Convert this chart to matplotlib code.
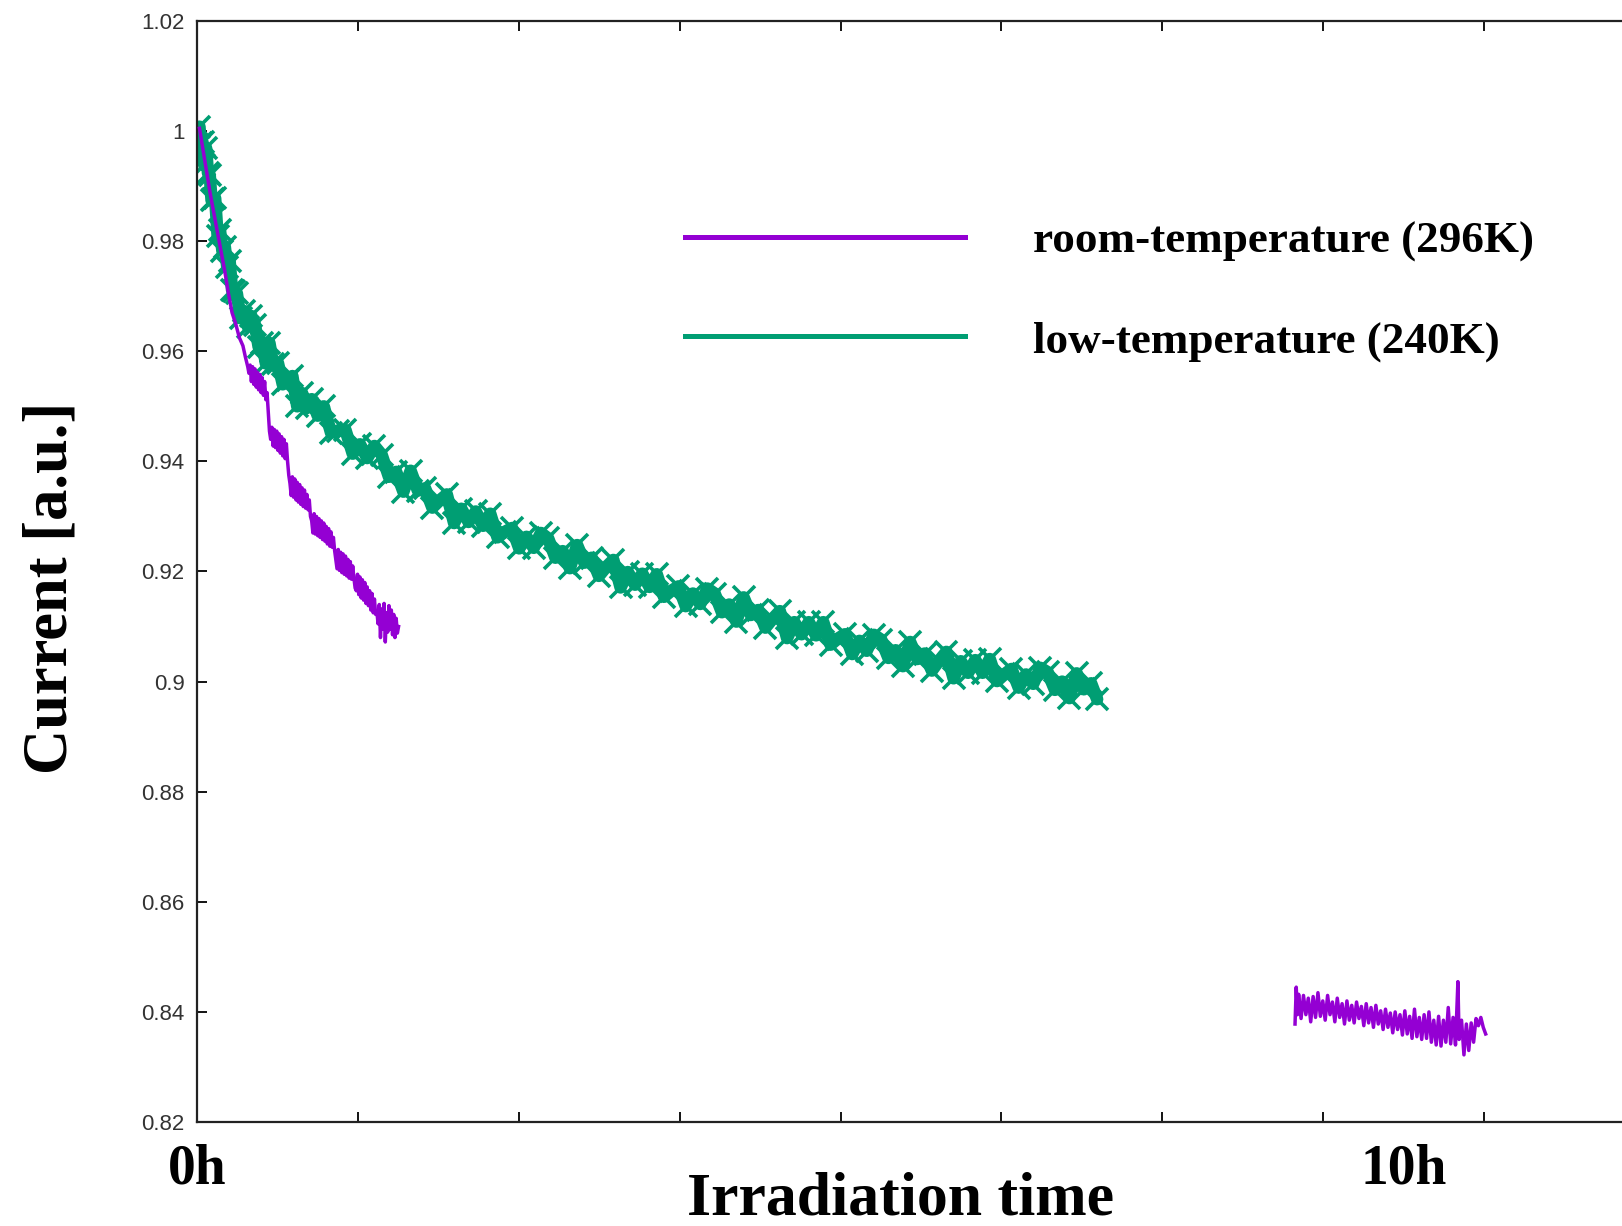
import numpy as np
import matplotlib.pyplot as plt
from matplotlib.lines import Line2D

# colours used by the original (gnuplot defaults)
c_room = "#9400d3"
c_low = "#009e73"

# irradiation time [h] and normalised current
low_t = [0.02, 0.03, 0.045, 0.06, 0.075, 0.09, 0.105, 0.12, 0.135, 0.15,
         0.17, 0.19, 0.21, 0.23, 0.25, 0.27, 0.29, 0.31, 0.33, 0.36,
         0.39, 0.42, 0.45, 0.48, 0.51, 0.54, 0.57, 0.60, 0.63, 0.67,
         0.71, 0.75, 0.79, 0.83, 0.87, 0.91, 0.95, 1.00,
         1.05, 1.11, 1.17, 1.23, 1.29, 1.35, 1.41, 1.47, 1.53, 1.59,
         1.65, 1.71, 1.77, 1.83, 1.89, 1.95, 2.01, 2.07, 2.13, 2.19,
         2.25, 2.31, 2.37, 2.43, 2.49, 2.55, 2.61, 2.67, 2.73, 2.79,
         2.85, 2.91, 2.97, 3.03, 3.09, 3.15, 3.21, 3.27, 3.33, 3.39,
         3.45, 3.51, 3.57, 3.63, 3.69, 3.75, 3.81, 3.87, 3.93, 3.99,
         4.05, 4.11, 4.17, 4.23, 4.29, 4.35, 4.41, 4.47, 4.53, 4.59,
         4.65, 4.71, 4.77, 4.83, 4.89, 4.95, 5.01, 5.07, 5.13, 5.19,
         5.25, 5.31, 5.37, 5.43, 5.49, 5.55, 5.61, 5.67, 5.73, 5.79,
         5.85, 5.91, 5.97, 6.03, 6.09, 6.15, 6.21, 6.27, 6.33, 6.39,
         6.45, 6.51, 6.57, 6.63, 6.69, 6.75, 6.81, 6.87, 6.93, 6.99,
         7.05, 7.11, 7.17, 7.23, 7.29, 7.35, 7.41, 7.46]
low_i = [1.0008, 0.9978, 0.9980, 0.9938, 0.9969, 0.9924, 0.9920, 0.9874, 0.9877, 0.9878,
         0.9810, 0.9820, 0.9782, 0.9790, 0.9753, 0.9764, 0.9711, 0.9710, 0.9705, 0.9660,
         0.9673, 0.9645, 0.9664, 0.9648, 0.9608, 0.9615, 0.9578, 0.9615, 0.9577, 0.9579,
         0.9540, 0.9548, 0.9555, 0.9500, 0.9524, 0.9497, 0.9513, 0.9483,
         0.9500, 0.9452, 0.9456, 0.9457, 0.9414, 0.9431, 0.9406, 0.9428, 0.9412, 0.9372,
         0.9381, 0.9345, 0.9383, 0.9347, 0.9351, 0.9316, 0.9329, 0.9340, 0.9288, 0.9314,
         0.9290, 0.9309, 0.9283, 0.9305, 0.9262, 0.9272, 0.9279, 0.9242, 0.9263, 0.9243,
         0.9270, 0.9260, 0.9225, 0.9237, 0.9206, 0.9248, 0.9216, 0.9225, 0.9192, 0.9208,
         0.9221, 0.9171, 0.9199, 0.9176, 0.9196, 0.9172, 0.9195, 0.9154, 0.9165, 0.9173,
         0.9137, 0.9160, 0.9141, 0.9169, 0.9160, 0.9126, 0.9140, 0.9109, 0.9153, 0.9121,
         0.9130, 0.9098, 0.9114, 0.9128, 0.9079, 0.9108, 0.9086, 0.9108, 0.9084, 0.9108,
         0.9067, 0.9078, 0.9086, 0.9050, 0.9074, 0.9056, 0.9085, 0.9076, 0.9043, 0.9057,
         0.9028, 0.9072, 0.9041, 0.9051, 0.9020, 0.9038, 0.9054, 0.9006, 0.9037, 0.9016,
         0.9039, 0.9016, 0.9041, 0.9001, 0.9013, 0.9023, 0.8989, 0.9013, 0.8996, 0.9025,
         0.9017, 0.8985, 0.9000, 0.8970, 0.9015, 0.8986, 0.8997, 0.8968]

room_t1 = [0.02, 0.05, 0.08, 0.11, 0.14, 0.17, 0.20, 0.23, 0.26, 0.29,
           0.32, 0.35, 0.38, 0.40, 0.42,
           0.43, 0.44, 0.45, 0.46, 0.47, 0.48, 0.49, 0.50, 0.51, 0.52,
           0.53, 0.54, 0.55, 0.56, 0.57, 0.58, 0.59, 0.60,
           0.61, 0.62, 0.63, 0.64, 0.65, 0.66, 0.67, 0.68, 0.69, 0.70,
           0.71, 0.72, 0.73, 0.74, 0.75, 0.76,
           0.77, 0.78, 0.79, 0.80, 0.81, 0.82, 0.83, 0.84, 0.85, 0.86,
           0.87, 0.88, 0.89, 0.90, 0.91, 0.92, 0.93, 0.94,
           0.95, 0.96, 0.97, 0.98, 0.99, 1.00, 1.01, 1.02, 1.03, 1.04,
           1.05, 1.06, 1.07, 1.08, 1.09, 1.10, 1.11, 1.12, 1.13, 1.14,
           1.15, 1.16, 1.17, 1.18, 1.19, 1.20, 1.21, 1.22, 1.23, 1.24,
           1.25, 1.26, 1.27, 1.28, 1.29, 1.30, 1.31,
           1.32, 1.33, 1.34, 1.35, 1.36, 1.37, 1.38, 1.39, 1.40, 1.41,
           1.42, 1.43, 1.44, 1.45, 1.46, 1.47, 1.48,
           1.49, 1.50, 1.51, 1.52, 1.53, 1.54, 1.55, 1.56, 1.57, 1.58,
           1.59, 1.60, 1.61, 1.62, 1.63, 1.64, 1.65, 1.66, 1.67]
room_i1 = [1.0005, 0.9965, 0.9925, 0.9885, 0.9850, 0.9815, 0.9780, 0.9745, 0.9705, 0.9670,
           0.9650, 0.9625, 0.9610, 0.9590, 0.9572,
           0.9560, 0.9575, 0.9545, 0.9572, 0.9540, 0.9568, 0.9535, 0.9562, 0.9530, 0.9558,
           0.9525, 0.9552, 0.9520, 0.9545, 0.9512, 0.9525, 0.9490, 0.9455,
           0.9440, 0.9462, 0.9428, 0.9458, 0.9425, 0.9455, 0.9420, 0.9450, 0.9415, 0.9445,
           0.9410, 0.9440, 0.9405, 0.9432, 0.9400, 0.9375,
           0.9360, 0.9338, 0.9372, 0.9335, 0.9368, 0.9330, 0.9362, 0.9326, 0.9358, 0.9322,
           0.9352, 0.9318, 0.9348, 0.9315, 0.9340, 0.9312, 0.9330, 0.9300,
           0.9292, 0.9270, 0.9305, 0.9268, 0.9300, 0.9265, 0.9296, 0.9262, 0.9292, 0.9258,
           0.9288, 0.9255, 0.9282, 0.9250, 0.9278, 0.9246, 0.9272, 0.9244, 0.9262, 0.9238,
           0.9222, 0.9205, 0.9240, 0.9202, 0.9235, 0.9198, 0.9232, 0.9195, 0.9228, 0.9192,
           0.9222, 0.9188, 0.9218, 0.9186, 0.9210, 0.9188, 0.9170,
           0.9165, 0.9195, 0.9158, 0.9190, 0.9152, 0.9185, 0.9148, 0.9180, 0.9142, 0.9172,
           0.9138, 0.9165, 0.9130, 0.9160, 0.9125, 0.9150, 0.9122,
           0.9128, 0.9105, 0.9140, 0.9080, 0.9132, 0.9095, 0.9142, 0.9072, 0.9125, 0.9090,
           0.9138, 0.9095, 0.9130, 0.9085, 0.9122, 0.9080, 0.9115, 0.9088, 0.9100]

room_t2 = [9.10, 9.11, 9.12, 9.13,
           9.15, 9.17, 9.19, 9.21, 9.23, 9.25, 9.27, 9.29, 9.31, 9.33,
           9.35, 9.37, 9.39, 9.41, 9.43, 9.45, 9.47, 9.49, 9.51, 9.53,
           9.55, 9.57, 9.59, 9.61, 9.63, 9.65, 9.67, 9.69, 9.71, 9.73,
           9.75, 9.77, 9.79, 9.81, 9.83, 9.85, 9.87, 9.89, 9.91, 9.93,
           9.95, 9.97, 9.99, 10.01, 10.03, 10.05, 10.07, 10.09, 10.11, 10.13,
           10.15, 10.17, 10.19, 10.21, 10.23, 10.25, 10.27, 10.29, 10.31, 10.33,
           10.35, 10.37, 10.39, 10.41, 10.43,
           10.45, 10.46,
           10.48, 10.50, 10.52, 10.54, 10.56, 10.58, 10.60, 10.62, 10.64, 10.66, 10.68]
room_i2 = [0.8378, 0.8445, 0.8395, 0.8432,
           0.8388, 0.8430, 0.8395, 0.8425, 0.8382, 0.8428, 0.8390, 0.8435, 0.8392, 0.8420,
           0.8385, 0.8430, 0.8395, 0.8418, 0.8382, 0.8425, 0.8390, 0.8415, 0.8378, 0.8420,
           0.8385, 0.8412, 0.8380, 0.8418, 0.8388, 0.8410, 0.8375, 0.8415, 0.8380, 0.8408,
           0.8372, 0.8412, 0.8378, 0.8402, 0.8368, 0.8405, 0.8372, 0.8398, 0.8362, 0.8400,
           0.8368, 0.8395, 0.8358, 0.8402, 0.8360, 0.8392, 0.8352, 0.8405, 0.8355, 0.8390,
           0.8350, 0.8395, 0.8352, 0.8400, 0.8345, 0.8385, 0.8340, 0.8392, 0.8338, 0.8385,
           0.8345, 0.8408, 0.8342, 0.8390, 0.8340,
           0.8455, 0.8350,
           0.8385, 0.8322, 0.8378, 0.8330, 0.8380, 0.8345, 0.8388, 0.8375, 0.8390, 0.8372, 0.8360]

yticks = [0.82, 0.84, 0.86, 0.88, 0.90, 0.92, 0.94, 0.96, 0.98, 1.00, 1.02]
hour_labels = ["0h", "10h"]
hour_pos = [0, 10]
labels = ["room-temperature (296K)", "low-temperature (240K)"]

fig = plt.figure(figsize=(16.22, 12.26), dpi=100)
ax = fig.add_axes([0.1215, 0.0848, 0.8785, 0.8981])

ax.plot(low_t, low_i, color=c_low, lw=9, marker="x", ms=16, mew=2.6,
        solid_joinstyle="round", solid_capstyle="round", zorder=2)
ax.plot(room_t1, room_i1, color=c_room, lw=2.5, zorder=3)
ax.plot(room_t2, room_i2, color=c_room, lw=2.5, zorder=3)

ax.set_xlim(0, 11.81)
ax.set_ylim(0.82, 1.02)
ax.set_xticks(np.arange(0, 11.8, 4 / 3))
ax.set_xticklabels([])
ax.set_yticks(yticks)
ax.set_yticklabels(["%g" % v for v in yticks], family=["Liberation Sans"],
                   fontsize=16, color="#333333")
ax.tick_params(axis="x", direction="in", length=7, width=1.3, top=True, bottom=True)
ax.tick_params(axis="y", direction="in", length=7, width=1.3, right=False, pad=9)
ax.spines["right"].set_visible(False)
for s in ["left", "bottom", "top"]:
    ax.spines[s].set_linewidth(1.6)
    ax.spines[s].set_color("#222222")

for p, lab in zip(hour_pos, hour_labels):
    ax.text(p, -0.0554, lab, transform=ax.get_xaxis_transform(), ha="center",
            va="baseline", fontsize=40, fontweight="bold", family="Liberation Serif")

fig.text(0.5555, 0.009, "Irradiation time", ha="center", va="baseline",
         fontsize=44.5, fontweight="bold", family="Liberation Serif")
fig.text(0.0318, 0.5205, "Current [a.u.]", ha="center", va="center", rotation=90,
         fontsize=45, fontweight="bold", family="Liberation Serif")

handles = [Line2D([], [], color=c_room, lw=3.6), Line2D([], [], color=c_low, lw=3.6)]
ax.legend(handles, labels, loc="upper left", bbox_to_anchor=(0.4087, 0.838),
          bbox_transform=fig.transFigure, frameon=False, borderpad=0,
          handlelength=6.2, handletextpad=1.5, labelspacing=1.29,
          prop={"family": "Liberation Serif", "weight": "bold", "size": 32.5})

fig.savefig("out.png", dpi=100)
